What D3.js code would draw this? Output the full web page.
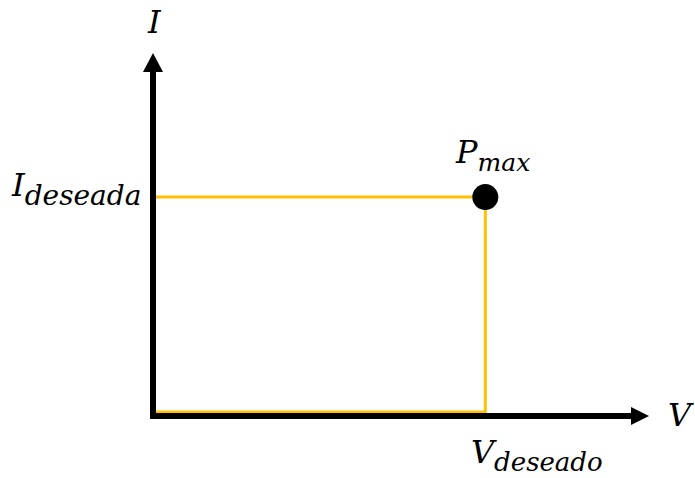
<!DOCTYPE html>
<html>
<head>
<meta charset="utf-8">
<script src="https://cdn.jsdelivr.net/npm/d3@7"></script>
<style>
  body { margin: 0; background: #fff; }
  text { font-family: "DejaVu Serif", serif; font-style: italic; fill: #000; }
</style>
</head>
<body>
<script>
// operating point (arbitrary units, 0..10 on both axes)
const vDeseado = [6.7];
const iDeseada = [6.03];
const labels = { x: "V", y: "I", v: ["V", "deseado"], i: ["I", "deseada"], p: ["P", "max"] };

const width = 695;
const height = 478;

const xScale = d3.scaleLinear().domain([0, 10]).range([153, 649]);
const yScale = d3.scaleLinear().domain([0, 10]).range([416, 53]);

const svg = d3.select("body")
  .append("svg")
  .attr("width", width)
  .attr("height", height);

const x0 = xScale(0), y0 = yScale(0);
const px = xScale(vDeseado[0]), py = yScale(iDeseada[0]);

// yellow guide lines
svg.append("path")
  .attr("d", `M${x0},${py}H${px}V${y0 - 4}H${x0}`)
  .attr("fill", "none")
  .attr("stroke", "#ffc000")
  .attr("stroke-width", 3);

// axes
svg.append("line")
  .attr("x1", x0).attr("y1", y0)
  .attr("x2", x0).attr("y2", yScale(10) + 18)
  .attr("stroke", "#000").attr("stroke-width", 6);
svg.append("line")
  .attr("x1", x0 - 3).attr("y1", y0)
  .attr("x2", xScale(10) - 18).attr("y2", y0)
  .attr("stroke", "#000").attr("stroke-width", 6);

// arrowheads
const ytip = yScale(10), xtip = xScale(10);
svg.append("path")
  .attr("d", `M${x0},${ytip}L${x0 + 10},${ytip + 19}L${x0 - 10},${ytip + 19}Z`);
svg.append("path")
  .attr("d", `M${xtip},${y0}L${xtip - 18},${y0 - 9}L${xtip - 18},${y0 + 9}Z`);

// Pmax point
svg.append("circle")
  .attr("cx", px).attr("cy", py).attr("r", 13)
  .attr("fill", "#000");

// labels
function sublabel(x, y, main, sub, size, subsize, dy) {
  const t = svg.append("text").attr("x", x).attr("y", y).style("font-size", size + "px");
  t.append("tspan").text(main);
  t.append("tspan").attr("dy", dy).style("font-size", subsize + "px").text(sub);
  return t;
}

svg.append("text").attr("x", 148).attr("y", 33).style("font-size", "32px").text(labels.y);
svg.append("text").attr("x", 668).attr("y", 426).style("font-size", "32px").text(labels.x);
sublabel(12, 196, labels.i[0], labels.i[1], 32, 28, 9);
sublabel(456, 163, labels.p[0], labels.p[1], 32, 25, 8);
sublabel(471, 463, labels.v[0], labels.v[1], 32, 26, 8);
</script>
</body>
</html>
